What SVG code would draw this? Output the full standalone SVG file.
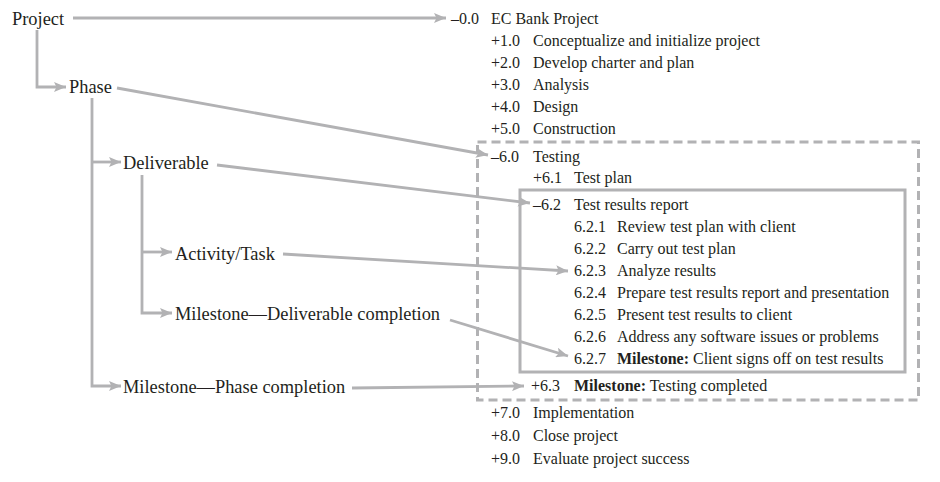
<svg xmlns="http://www.w3.org/2000/svg" width="940" height="482" viewBox="0 0 940 482">
<style>
.l{font-family:"Liberation Serif","Times New Roman",serif;font-size:18.4px;fill:#231f20}
.r{font-family:"Liberation Serif","Times New Roman",serif;font-size:16px;fill:#231f20}
.b{font-weight:bold}
.c{fill:none;stroke:#b2b2b4;stroke-width:2.8}
.box{fill:none;stroke:#b2b2b4;stroke-width:3}
</style>
<defs>
<marker id="ah" viewBox="0 0 12 10" refX="12" refY="5" markerWidth="12" markerHeight="10" markerUnits="userSpaceOnUse" orient="auto">
<path d="M0,0 L12,5 L0,10 L2.5,5 Z" fill="#b2b2b4"/>
</marker>
</defs>
<rect x="477.5" y="142" width="441" height="258" class="box" stroke-dasharray="9,5"/>
<rect x="520" y="190" width="385" height="182" class="box"/>
<g id="connectors">
<path class="c" d="M73,18 H446" marker-end="url(#ah)"/>
<path class="c" d="M37,30 V87 H66" marker-end="url(#ah)"/>
<path class="c" d="M117,88 L488,155" marker-end="url(#ah)"/>
<path class="c" d="M92,98 V386 H121" marker-end="url(#ah)"/>
<path class="c" d="M92,162 H121" marker-end="url(#ah)"/>
<path class="c" d="M217,165 L530,203" marker-end="url(#ah)"/>
<path class="c" d="M142,175 V313 H172" marker-end="url(#ah)"/>
<path class="c" d="M142,252 H172" marker-end="url(#ah)"/>
<path class="c" d="M283,254 L568,271" marker-end="url(#ah)"/>
<path class="c" d="M450,320 L568,356" marker-end="url(#ah)"/>
<path class="c" d="M352,388 L524,386" marker-end="url(#ah)"/>
</g>
<g id="project"><text class="l" x="12" y="25">Project</text></g>
<g id="phase"><text class="l" x="69" y="93">Phase</text></g>
<g id="deliverable"><text class="l" x="123" y="169">Deliverable</text></g>
<g id="activity"><text class="l" x="175" y="260">Activity/Task</text></g>
<g id="milestone-deliverable"><text class="l" x="175" y="320">Milestone—Deliverable completion</text></g>
<g id="milestone-phase"><text class="l" x="123" y="393">Milestone—Phase completion</text></g>
<g id="wbs">
<text class="r" x="451" y="24">–0.0</text><text class="r" x="491" y="24">EC Bank Project</text>
<text class="r" x="491" y="46">+1.0</text><text class="r" x="533" y="46">Conceptualize and initialize project</text>
<text class="r" x="491" y="68">+2.0</text><text class="r" x="533" y="68">Develop charter and plan</text>
<text class="r" x="491" y="90">+3.0</text><text class="r" x="533" y="90">Analysis</text>
<text class="r" x="491" y="112">+4.0</text><text class="r" x="533" y="112">Design</text>
<text class="r" x="491" y="134">+5.0</text><text class="r" x="533" y="134">Construction</text>
<text class="r" x="491" y="162">–6.0</text><text class="r" x="533" y="162">Testing</text>
<text class="r" x="533" y="183">+6.1</text><text class="r" x="574" y="183">Test plan</text>
<text class="r" x="533" y="210">–6.2</text><text class="r" x="574" y="210">Test results report</text>
<text class="r" x="574" y="232">6.2.1</text><text class="r" x="617" y="232">Review test plan with client</text>
<text class="r" x="574" y="254">6.2.2</text><text class="r" x="617" y="254">Carry out test plan</text>
<text class="r" x="574" y="276">6.2.3</text><text class="r" x="617" y="276">Analyze results</text>
<text class="r" x="574" y="298">6.2.4</text><text class="r" x="617" y="298">Prepare test results report and presentation</text>
<text class="r" x="574" y="320">6.2.5</text><text class="r" x="617" y="320">Present test results to client</text>
<text class="r" x="574" y="342">6.2.6</text><text class="r" x="617" y="342">Address any software issues or problems</text>
<text class="r" x="574" y="364">6.2.7</text><text class="r" x="617" y="364"><tspan class="b">Milestone:</tspan> Client signs off on test results</text>
<text class="r" x="531" y="391">+6.3</text><text class="r" x="574" y="391"><tspan class="b">Milestone:</tspan> Testing completed</text>
<text class="r" x="491" y="418">+7.0</text><text class="r" x="533" y="418">Implementation</text>
<text class="r" x="491" y="441">+8.0</text><text class="r" x="533" y="441">Close project</text>
<text class="r" x="491" y="464">+9.0</text><text class="r" x="533" y="464">Evaluate project success</text>
</g>
</svg>
